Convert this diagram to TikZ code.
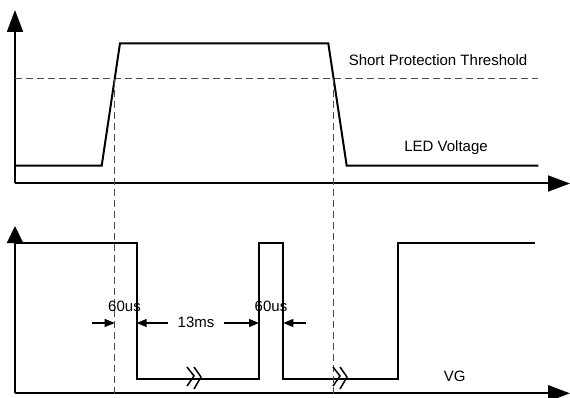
\documentclass[tikz,border=0pt]{standalone}
\usepackage{fontspec}
\setmainfont{Liberation Sans}
\usetikzlibrary{arrows.meta}

\begin{document}
\begin{tikzpicture}[x=1pt, y=-1pt, line width=2pt,
    axis/.style={-{Triangle[length=22pt,width=16pt]}},
    dim/.style={line width=1.2pt, -{Triangle[length=10pt,width=8pt]}},
    guide/.style={line width=1.1pt, draw=black!70, dash pattern=on 7pt off 4pt},
    lbl/.style={font=\fontsize{15}{17}\selectfont, inner sep=0pt}]
    \useasboundingbox (0,0) rectangle (570,398);

    % LED voltage
    \draw[axis] (15,183.5) -- (15,10);
    \draw[axis] (15,183.5) -- (570,183.5);
    \draw[guide] (15,78.7) -- (538,78.7);
    \draw (15,165.7) -- (101.7,165.7) -- (120,43.3) -- (328.3,43.3) -- (346.7,165.7) -- (538.3,165.7);
    \node[lbl] (thr) at (438,60) {Short Protection Threshold};
    \node[lbl] (led) at (446,148) {LED Voltage};

    % VG
    \draw[-{Triangle[length=17pt,width=16pt]}] (15,393.3) -- (15,226);
    \draw[axis] (15,393.3) -- (570,393.3);
    \draw (15,242.7) -- (136.7,242.7) -- (136.7,379.3) -- (259,379.3) -- (259,242.7)
        -- (283.3,242.7) -- (283.3,379.3) -- (398.3,379.3) -- (398.3,242.7) -- (535,242.7);
    \node[lbl] (vg) at (454.7,376) {VG};

    % cut lines
    \draw[guide] (114.7,78.7) -- (114.7,398);
    \draw[guide] (333.5,78.7) -- (333.5,398);

    % break marks
    \foreach \bx in {187,333} {
        \draw[line width=1.5pt] (\bx,367) -- (\bx+7,376) -- (\bx,386);
        \draw[line width=1.5pt] (\bx+7,367) -- (\bx+14,377) -- (\bx+7,389);
    }

    % timing
    \coordinate (cut1) at (114.7,323);
    \coordinate (fall1) at (136.7,323);
    \coordinate (rise2) at (259,323);
    \coordinate (fall2) at (283.3,323);
    \coordinate (a1) at (91.7,323);
    \coordinate (a2) at (168,323);
    \coordinate (a3) at (224,323);
    \coordinate (a4) at (306,323);
    \draw[dim] (a1) -- (cut1);
    \draw[dim] (a2) -- (fall1);
    \draw[dim] (a3) -- (rise2);
    \draw[dim] (a4) -- (fall2);
    \node[lbl] (w1) at (124.5,306) {60us};
    \node[lbl] (gap) at (196,322) {13ms};
    \node[lbl] (w2) at (271,306) {60us};
\end{tikzpicture}
\end{document}
